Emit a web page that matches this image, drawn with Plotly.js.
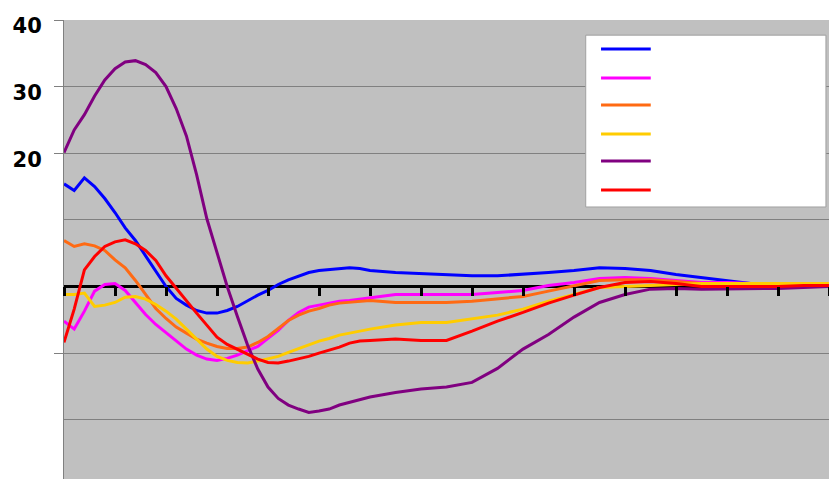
<!DOCTYPE html>
<html>
<head>
<meta charset="utf-8">
<script src="https://cdn.plot.ly/plotly-3.0.1.min.js"></script>
<style>html,body{margin:0;padding:0;background:#fff;}#chart{width:829px;height:479px;}</style>
</head>
<body>
<div id="chart"></div>
<script>
// x positions (time index)
const xVals = [0,2,4,6,8,10,12,14,16,18,20,22,24,26,28,30,32,34,36,38,40,42,44,46,48,50,52,54,56,58,60,
  65,70,75,80,85,90,95,100,105,110,115,120,125,130,135,140,145,150];

const blueVals = [15.4,14.4,16.3,15.0,13.2,11.1,8.8,6.9,4.6,2.2,0,-1.8,-2.8,-3.6,-4.0,-4.0,-3.6,-3.0,-2.1,-1.3,-0.6,0.3,1.0,1.6,2.1,2.4,2.5,2.7,2.8,2.7,2.4,
  2.1,1.9,1.8,1.6,1.6,1.8,2.1,2.4,2.8,2.7,2.4,1.8,1.3,0.9,0.4,0.3,0.15,0.15];

const magentaVals = [-5.2,-6.4,-3.7,-0.7,0.3,0.45,-0.6,-2.4,-4.2,-5.7,-6.9,-8.2,-9.4,-10.3,-10.9,-11.1,-10.8,-10.3,-9.7,-9.0,-7.8,-6.6,-5.1,-3.9,-3.1,-2.8,-2.5,-2.2,-2.1,-1.9,-1.6,
  -1.2,-1.2,-1.2,-1.2,-0.9,-0.6,0.15,0.6,1.2,1.35,1.2,0.9,0.6,0.6,0.45,0.3,0.15,0.15];

const orangeVals = [6.9,6.0,6.4,6.1,5.4,4.0,2.8,0.9,-1.2,-3.3,-4.8,-6.1,-7.0,-7.9,-8.5,-9.0,-9.3,-9.3,-9.1,-8.4,-7.5,-6.3,-5.1,-4.3,-3.7,-3.3,-2.8,-2.5,-2.4,-2.2,-2.1,
  -2.4,-2.4,-2.4,-2.2,-1.9,-1.5,-0.7,0.15,0.9,1.0,1.0,0.75,0.45,0.3,0.15,0.15,0.15,0.15];

const yellowVals = [-1.2,-1.2,-1.0,-3.0,-2.8,-2.4,-1.6,-1.5,-1.9,-2.7,-3.7,-4.9,-6.4,-7.9,-9.4,-10.5,-11.1,-11.4,-11.5,-11.2,-10.9,-10.5,-9.9,-9.3,-8.7,-8.2,-7.8,-7.3,-7.0,-6.7,-6.4,
  -5.8,-5.4,-5.4,-4.9,-4.3,-3.4,-2.2,-1.2,-0.15,0,0.15,0.3,0.45,0.45,0.45,0.45,0.45,0.45];

const purpleVals = [20.1,23.5,25.8,28.6,31.0,32.7,33.7,33.9,33.3,32.1,30.0,26.7,22.6,16.8,10.2,5.1,0,-4.5,-8.8,-12.4,-15.1,-16.8,-17.8,-18.4,-18.9,-18.7,-18.4,-17.8,-17.4,-17.1,-16.6,
  -15.9,-15.4,-15.1,-14.4,-12.3,-9.4,-7.2,-4.6,-2.4,-1.2,-0.4,-0.3,-0.4,-0.4,-0.3,-0.3,-0.15,0];

const redVals = [-8.4,-3.4,2.5,4.5,6.0,6.7,7.0,6.4,5.4,3.9,1.6,-0.3,-2.1,-4.0,-5.8,-7.6,-8.7,-9.4,-10.2,-10.9,-11.4,-11.5,-11.2,-10.9,-10.5,-10.0,-9.6,-9.1,-8.5,-8.2,-8.1,
  -7.9,-8.1,-8.1,-6.7,-5.2,-3.9,-2.5,-1.3,-0.15,0.6,0.75,0.45,0,0,0,0,0.15,0.15];

const seriesNames = ['Series 1','Series 2','Series 3','Series 4','Series 5','Series 6'];
const seriesValues = [blueVals, magentaVals, orangeVals, yellowVals, purpleVals, redVals];
const seriesColors = ['#0000FF','#FF00FF','#FF6A13','#FFCC00','#800080','#FF0000'];

const yTickVals = [40,30,20,-10];
const yTickText = ['40','30','20',''];
const yMinorGrid = [10,-20];
const xTickStep = 10;

const traces = seriesValues.map((vals,i)=>({
  x: xVals, y: vals, type:'scatter', mode:'lines', name: seriesNames[i],
  line:{color: seriesColors[i], width:3}, hoverinfo:'skip'
}));

// legend box (no labels in the original)
const legendShapes = [{type:'rect', xref:'paper', yref:'paper', x0:0.682, x1:0.996, y0:0.5926, y1:0.967,
  fillcolor:'#FFFFFF', line:{color:'#A0A0A0', width:1}, layer:'above'}];
const legendY = [0.9368,0.8736,0.8148,0.7516,0.6928,0.6296];
seriesColors.forEach((c,i)=>{
  legendShapes.push({type:'line', xref:'paper', yref:'paper', x0:0.702, x1:0.767, y0:legendY[i], y1:legendY[i],
    line:{color:c, width:3}, layer:'above'});
});

const layout = {
  width:829, height:479,
  margin:{l:64, r:0, t:20, b:0, pad:0},
  paper_bgcolor:'#FFFFFF', plot_bgcolor:'#C0C0C0',
  showlegend:false,
  xaxis:{
    range:[0,150], anchor:'free', position:0.4194, side:'bottom',
    showline:false,
    ticks:'outside', tickmode:'linear', tick0:0, dtick:xTickStep, ticklen:9, tickwidth:3, tickcolor:'#000000',
    showticklabels:false, showgrid:false, zeroline:false, layer:'above traces'
  },
  yaxis:{
    range:[-28.9,40],
    showline:true, linecolor:'#808080', linewidth:1,
    tickmode:'array', tickvals:yTickVals, ticktext:yTickText,
    ticks:'outside', ticklen:9, tickwidth:1, tickcolor:'#808080',
    ticklabelstandoff:8, ticklabelshift:6,
    tickfont:{family:'DejaVu Sans', size:21, weight:'bold', color:'#000000'},
    showgrid:true, gridcolor:'#808080', gridwidth:1,
    minor:{tickmode:'array', tickvals:yMinorGrid, showgrid:true, gridcolor:'#808080', gridwidth:1, ticks:''},
    zeroline:true, zerolinecolor:'#000000', zerolinewidth:3, layer:'below traces'
  },
  shapes: legendShapes
};

Plotly.newPlot('chart', traces, layout, {staticPlot:true, displayModeBar:false});
</script>
</body>
</html>
